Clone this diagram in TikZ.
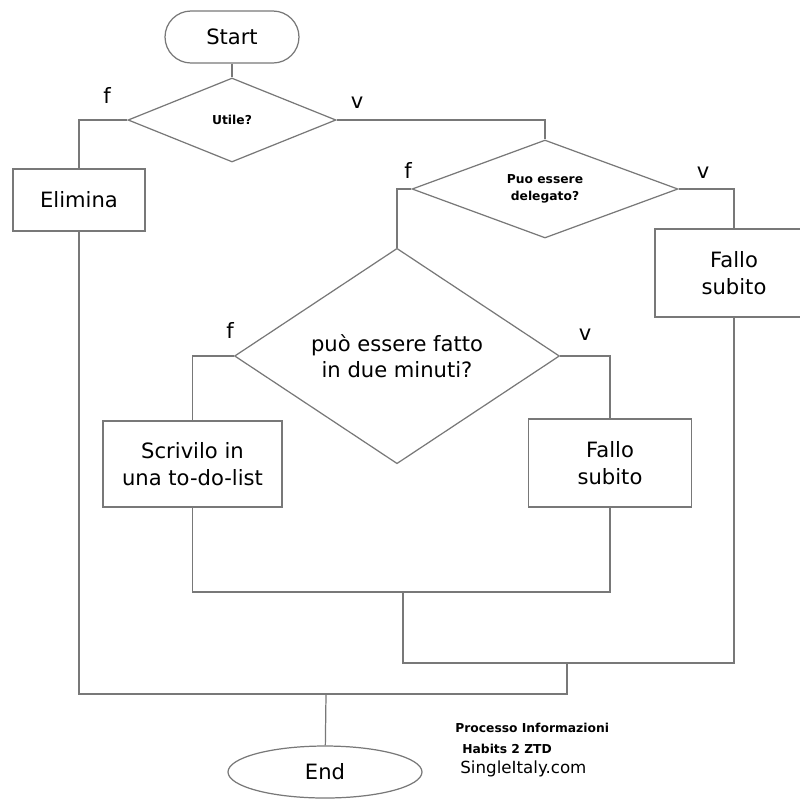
\documentclass[tikz,border=0pt]{standalone}
\usepackage{fontspec}
\setmainfont{DejaVu Sans}
\usetikzlibrary{shapes.geometric}
\definecolor{linegray}{RGB}{120,120,120}
\begin{document}
\begin{tikzpicture}[x=0.02cm,y=-0.02cm,
    every node/.style={font=\fontsize{12}{15}\selectfont},
    flow/.style={draw=linegray,line width=0.7pt},
    box/.style={flow,rectangle,align=center,inner sep=0pt},
    decision/.style={flow,diamond,align=center,inner sep=0pt},
    small/.style={font=\fontsize{7}{9.5}\selectfont\bfseries},
    lbl/.style={inner sep=0pt}]
    \clip (0,0) rectangle (800,798);
    %% start and first question
    \node[box,rounded corners=0.52cm,minimum width=2.68cm,minimum height=1.04cm] (start) at (232,37) {Start};
    \node[decision,small,aspect=2.5,minimum width=4.16cm,minimum height=1.68cm] (utile) at (232,120) {Utile?};
    \node[box,minimum width=2.64cm,minimum height=1.24cm] (elimina) at (79,200) {Elimina};
    \node[lbl] (f1) at (107,95) {f};
    \node[lbl] (v1) at (357,103) {v};
    %% delegate
    \node[decision,small,aspect=2.7,minimum width=5.32cm,minimum height=1.96cm] (delegato) at (545,189) {Puo essere\\delegato?};
    \node[box,minimum width=3.16cm,minimum height=1.76cm] (fallo1) at (734,273) {Fallo\\subito};
    \node[lbl] (f2) at (408,170) {f};
    \node[lbl] (v2) at (703,173) {v};
    %% two minutes
    \node[decision,minimum width=6.5cm,minimum height=3.98cm] (minuti) at (397,356) {può essere fatto\\in due minuti?};
    \node[box,minimum width=3.58cm,minimum height=1.72cm] (scrivi) at (192.5,464) {Scrivilo in\\una to-do-list};
    \node[box,minimum width=3.26cm,minimum height=1.76cm] (fallo2) at (610,463) {Fallo\\subito};
    \node[lbl] (f3) at (230,330) {f};
    \node[lbl] (v3) at (585,335) {v};
    %% end
    \node[flow,ellipse,inner sep=0pt,minimum width=3.88cm,minimum height=1.04cm] (end) at (325,772) {End};
    \node[lbl,small,anchor=west] (note1) at (455,728) {Processo Informazioni};
    \node[lbl,small,anchor=west] (note2) at (462,749) {Habits 2 ZTD};
    \node[lbl,anchor=west,font=\fontsize{9.5}{11}\selectfont] (note3) at (460,769) {SingleItaly.com};
    %% joins
    \coordinate (j1) at (403,592);
    \coordinate (j2) at (567,663);
    \coordinate (j3) at (326,694);
    %% connectors
    \draw[flow] (start) -- (utile);
    \draw[flow] (utile.west) -| (elimina.north);
    \draw[flow] (utile.east) -| (delegato.north);
    \draw[flow] (delegato.west) -| (minuti.north);
    \draw[flow] (delegato.east) -| (fallo1.north);
    \draw[flow] (minuti.west) -| (scrivi.north);
    \draw[flow] (minuti.east) -| (fallo2.north);
    \draw[flow] (scrivi.south) |- (j1) -| (fallo2.south);
    \draw[flow] (j1) |- (j2) -| (fallo1.south);
    \draw[flow] (elimina.south) |- (j3) -| (j2);
    \draw[flow] (j3) -- (end);
\end{tikzpicture}
\end{document}
